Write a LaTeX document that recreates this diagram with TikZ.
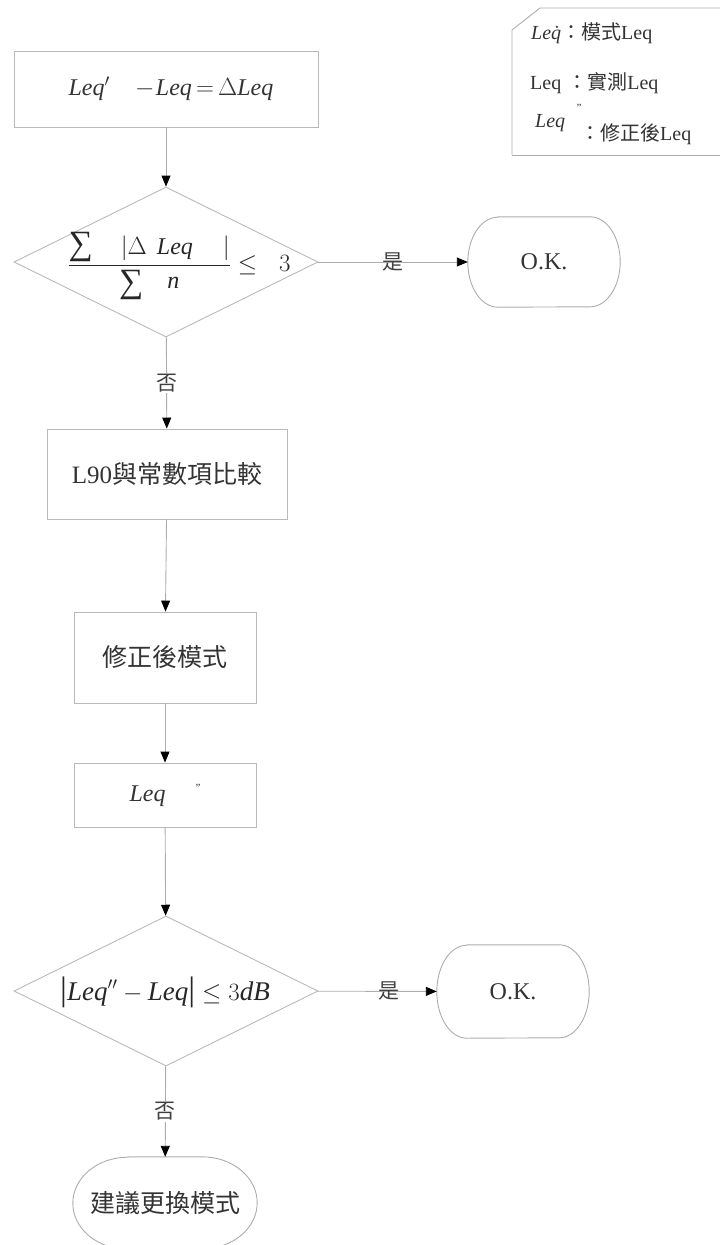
\documentclass[tikz,border=0pt]{standalone}
\usepackage{fontspec}
\setmainfont{Liberation Serif}
\newfontfamily\cjk{Noto Sans CJK TC}
\usetikzlibrary{shapes.geometric,arrows.meta}
\newcommand{\bigsig}{\mbox{\fontsize{34}{34}\selectfont ∑}}
\newcommand{\tallbar}{\mbox{\fontsize{34}{34}\selectfont |}}
\begin{document}
\begin{tikzpicture}[x=1pt,y=1pt,
  line/.style={draw=gray!65, line width=0.9pt},
  arr/.style={line, -{Triangle[length=11pt,width=9pt,color=black]}},
  procbox/.style={draw=gray!55, line width=0.9pt, rectangle, inner sep=0pt, text=black!80},
  decision/.style={draw=gray!55, line width=0.9pt, diamond, inner sep=0pt},
  termtext/.style={inner sep=0pt, text=black!80},
  big/.style={font=\fontsize{24}{28}\selectfont},
  cjkbig/.style={font=\fontsize{25}{28}\selectfont},
  legend/.style={inner sep=0pt, text=black!80, font=\fontsize{20}{24}\selectfont},
  lbl/.style={inner sep=1pt, text=black!75, font=\cjk\fontsize{21}{24}\selectfont},
  lblw/.style={lbl, fill=white}
]
\useasboundingbox (0,0) rectangle (720,-1245);

% legend
\draw[line] (512,-155) -- (512,-30) -- (540,-8) -- (721,-8);
\draw[line] (512,-155) -- (721,-155);
\node[legend, anchor=west] (lg1) at (531,-33) {{\itshape Le\.{q}}{\cjk ：模式}Leq};
\node[legend, anchor=west] (lg2) at (530,-83) {Leq\hspace{6pt}{\cjk ：實測}Leq};
\node[legend, anchor=west] (lg3a) at (535,-123) {\itshape Leq};
\node[inner sep=0pt, text=black!80, font=\fontsize{11}{11}\selectfont] (lg3q) at (579,-108) {\char"22};
\node[legend, anchor=west] (lg3b) at (580,-134) {{\cjk ：修正後}Leq};

% box 1
\node[procbox, minimum width=304pt, minimum height=76pt, big] (b1) at (166,-89)
  {\hspace{10pt}$\medmuskip=1mu\thickmuskip=3mu\mathit{Leq}'\quad-\mathit{Leq}=\Delta \mathit{Leq}$};

% decision 1
\node[decision, minimum width=304pt, minimum height=150pt] (d1) at (166,-262) {};
\node[big, inner sep=0pt, text=black!85] (d1t) at (179,-266)
  {$\displaystyle\frac{\bigsig\hspace{28pt}|\Delta\hspace{10pt}\mathit{Leq}\hspace{30pt}|}{\raisebox{-4pt}{\bigsig}\hspace{24pt}\mathit{n}}\mathrel{\le}\hspace{15pt}3$};

% OK 1
\node[termtext, minimum width=152pt, minimum height=90pt, big] (ok1) at (544,-262) {O.K.};
\draw[line] ([xshift=30pt]ok1.north west) -- ([xshift=-30pt]ok1.north east)
  arc[start angle=90, end angle=-90, x radius=30pt, y radius=45pt]
  -- ([xshift=30pt]ok1.south west)
  arc[start angle=270, end angle=90, x radius=30pt, y radius=45pt] -- cycle;

% box 2, 3, 4
\node[procbox, minimum width=240pt, minimum height=90pt, cjkbig] (b2) at (167,-474) {L90{\cjk 與常數項比較}};
\node[procbox, minimum width=182pt, minimum height=91pt, cjkbig] (b3) at (165,-657.5) {{\cjk 修正後模式}};
\node[procbox, minimum width=182pt, minimum height=64pt, big] (b4) at (165,-795)
  {\textit{Leq}\hspace{30pt}\raisebox{10pt}{\fontsize{11}{11}\selectfont\char"22}};

% decision 2
\node[decision, minimum width=304pt, minimum height=150pt] (d2) at (166,-991) {};
\node[inner sep=0pt, text=black!85, font=\fontsize{27}{30}\selectfont] (d2t) at (165,-992)
  {$\tallbar\mathit{Leq}''-\mathit{Leq}\tallbar\le 3\mathit{dB}$};

% OK 2
\node[termtext, minimum width=152pt, minimum height=93pt, big] (ok2) at (513,-991.5) {O.K.};
\draw[line] ([xshift=30pt]ok2.north west) -- ([xshift=-30pt]ok2.north east)
  arc[start angle=90, end angle=-90, x radius=30pt, y radius=46.5pt]
  -- ([xshift=30pt]ok2.south west)
  arc[start angle=270, end angle=90, x radius=30pt, y radius=46.5pt] -- cycle;

% end terminal
\node[termtext, minimum width=184pt, minimum height=92pt, cjkbig] (end) at (165,-1203) {{\cjk 建議更換模式}};
\draw[line] ([xshift=55pt]end.north west) -- ([xshift=-55pt]end.north east)
  arc[start angle=90, end angle=-90, x radius=55pt, y radius=46pt]
  -- ([xshift=55pt]end.south west)
  arc[start angle=270, end angle=90, x radius=55pt, y radius=46pt] -- cycle;

% connectors
\draw[arr] (b1) -- (d1);
\draw[arr] (d1) -- node[lbl, pos=0.5] {是} (ok1);
\draw[arr] (d1) -- node[lblw] {否} (b2);
\draw[arr] (b2) -- (b3);
\draw[arr] (b3) -- (b4);
\draw[arr] (b4) -- (d2);
\draw[arr] (d2) -- node[lbl, pos=0.6] {是} (ok2);
\draw[arr] (d2) -- node[lblw] {否} (end);
\end{tikzpicture}
\end{document}
